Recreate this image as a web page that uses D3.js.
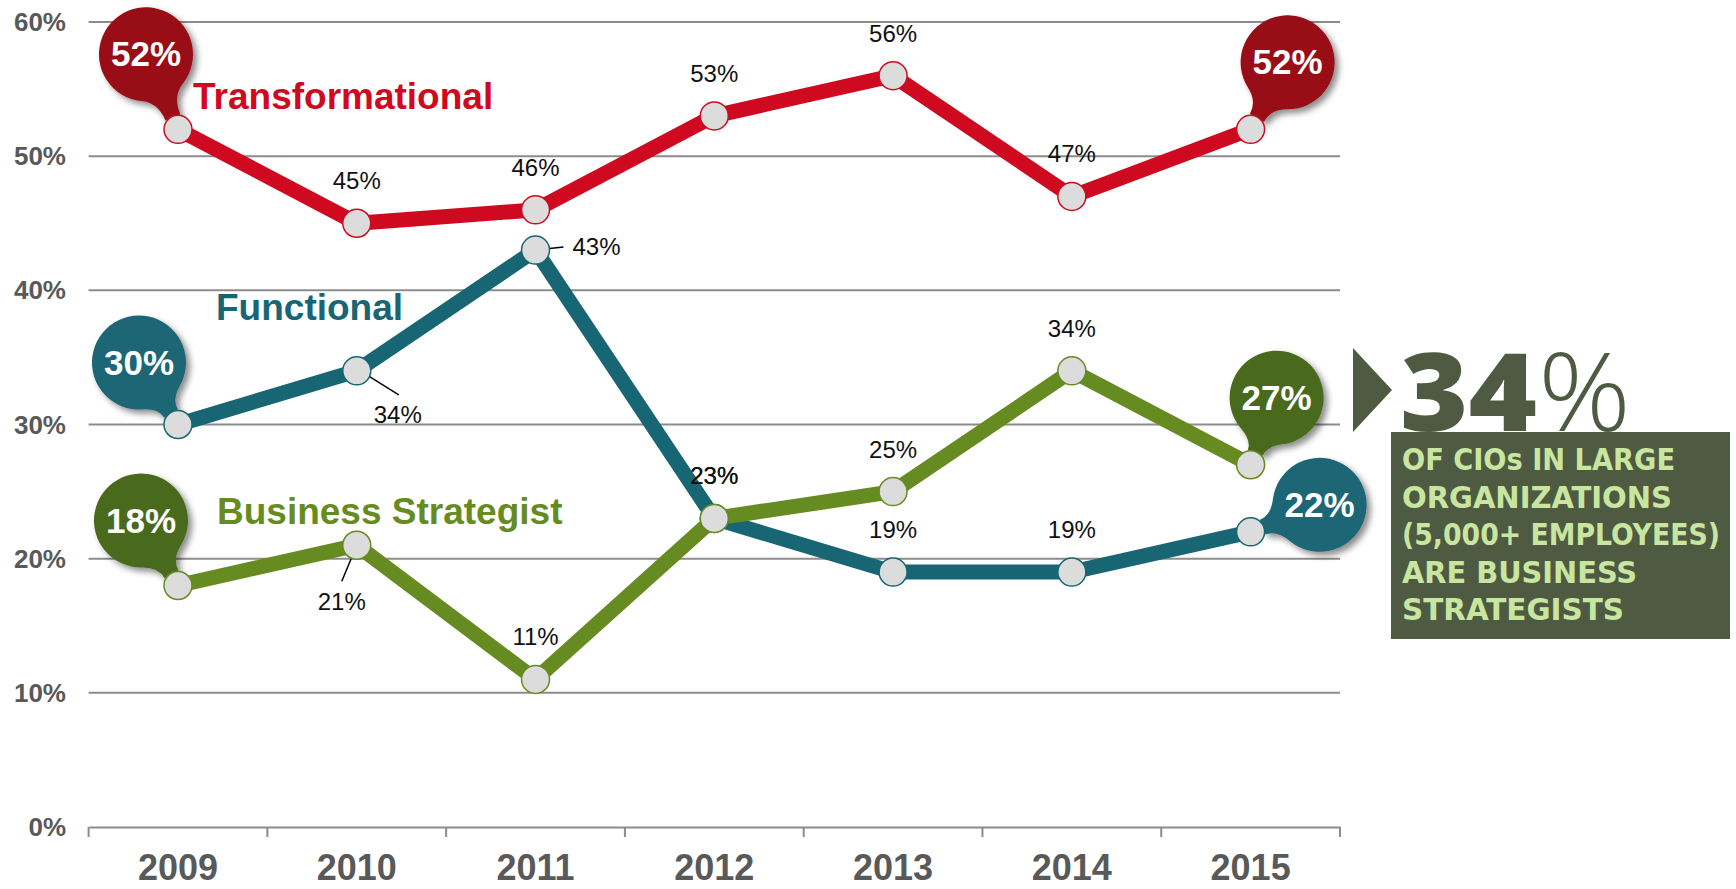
<!DOCTYPE html>
<html>
<head>
<meta charset="utf-8">
<script src="https://cdn.jsdelivr.net/npm/d3@7/dist/d3.min.js"></script>
<style>
  body { margin: 0; background: #fff; }
  text { font-family: "Liberation Sans", Arial, sans-serif; }
</style>
</head>
<body>
<div id="chart"></div>
<script>
const years = ["2009", "2010", "2011", "2012", "2013", "2014", "2015"];
const transformational = [52, 45, 46, 53, 56, 47, 52];
const functional = [30, 34, 43, 23, 19, 19, 22];
const businessStrategist = [18, 21, 11, 23, 25, 34, 27];
const yTicks = [0, 10, 20, 30, 40, 50, 60];
const calloutLines = ["OF CIOs IN LARGE", "ORGANIZATIONS", "(5,000+ EMPLOYEES)", "ARE BUSINESS", "STRATEGISTS"];

const svgWidth = 1736;
const svgHeight = 889;

const series = [
    { name: "Transformational", values: transformational, line: "#cf0a20", bubble: "#990818",
      labelPos: [193, 109],
      bubbles: [{ i: 0, dx: -32, dy: -75 }, { i: 6, dx: 37, dy: -67 }],
      special: {} },
    { name: "Functional", values: functional, line: "#186674", bubble: "#1a6674",
      labelPos: [216, 320],
      bubbles: [{ i: 0, dx: -39, dy: -62 }, { i: 6, dx: 69, dy: -27 }],
      special: { 1: { lx: 41, ly: 52, x1: 2, y1: -1, x2: 42, y2: 24 }, 2: { lx: 62, ly: 5, anchor: "start", lx0: 37, x1: 0, y1: 0, x2: 28, y2: -3 } } },
    { name: "Business Strategist", values: businessStrategist, line: "#668b21", bubble: "#4a6a1a",
      labelPos: [217, 524],
      bubbles: [{ i: 0, dx: -37, dy: -65 }, { i: 6, dx: 26, dy: -67 }],
      special: { 1: { lx: -15, ly: 65, x1: 0, y1: 0, x2: -15, y2: 36 } } }
];

const xScale = d3.scaleBand()
    .domain(years)
    .range([88.6, 1340]);

const yScale = d3.scaleLinear()
    .domain([0, 60])
    .range([827, 22]);

const cx = d => xScale(d) + xScale.bandwidth() / 2;

const svg = d3.select("#chart")
    .append("svg")
    .attr("width", svgWidth)
    .attr("height", svgHeight);

// shadow for the bubbles
const defs = svg.append("defs");
defs.append("filter")
    .attr("id", "shadow")
    .attr("x", "-30%").attr("y", "-30%")
    .attr("width", "170%").attr("height", "170%")
    .append("feDropShadow")
    .attr("dx", 4).attr("dy", 4)
    .attr("stdDeviation", 3)
    .attr("flood-color", "#000")
    .attr("flood-opacity", 0.45);

// gridlines
svg.selectAll(".grid")
    .data(yTicks.filter(d => d > 0))
    .enter()
    .append("line")
    .attr("x1", 88.6)
    .attr("x2", 1340)
    .attr("y1", d => yScale(d))
    .attr("y2", d => yScale(d))
    .attr("stroke", "#8c8c8c")
    .attr("stroke-width", 2);

// y labels
svg.selectAll(".ylab")
    .data(yTicks)
    .enter()
    .append("text")
    .attr("x", 66)
    .attr("y", d => yScale(d) + 9)
    .attr("text-anchor", "end")
    .style("font-size", "26px")
    .style("font-weight", "bold")
    .attr("fill", "#595959")
    .text(d => d + "%");

// x axis
const xAxis = svg.append("g")
    .attr("transform", `translate(0, ${yScale(0)})`)
    .call(d3.axisBottom(xScale).tickSize(0).tickPadding(27));
xAxis.select(".domain").attr("stroke", "#8c8c8c").attr("stroke-width", 2);
xAxis.selectAll("text")
    .style("font-size", "36px")
    .style("font-weight", "bold")
    .style("font-family", "'Liberation Sans', Arial, sans-serif")
    .attr("fill", "#595959");

// band edge ticks
svg.selectAll(".xtick")
    .data(years.concat(["end"]))
    .enter()
    .append("line")
    .attr("x1", (d, i) => i < years.length ? xScale(d) : xScale.range()[1])
    .attr("x2", (d, i) => i < years.length ? xScale(d) : xScale.range()[1])
    .attr("y1", yScale(0))
    .attr("y2", yScale(0) + 10)
    .attr("stroke", "#8c8c8c")
    .attr("stroke-width", 2);

// series lines
const line = d3.line()
    .x((d, i) => cx(years[i]))
    .y(d => yScale(d));

series.forEach(s => {
    svg.append("path")
        .datum(s.values)
        .attr("d", line)
        .attr("fill", "none")
        .attr("stroke", s.line)
        .attr("stroke-width", 15)
        .attr("stroke-linejoin", "miter");
});

// speech bubble with a blunt tail pointing at the point
function bubblePath(bx, by, R, px, py) {
    const vx = px - bx, vy = py - by;
    const L = Math.sqrt(vx * vx + vy * vy);
    const dx = vx / L, dy = vy / L;
    const nx = -dy, ny = dx;
    const th = Math.atan2(dy, dx);
    const a = 0.5;
    const w = 8;
    const tl = L - 13;
    const b1 = [bx + R * Math.cos(th + a), by + R * Math.sin(th + a)];
    const b2 = [bx + R * Math.cos(th - a), by + R * Math.sin(th - a)];
    const t1 = [bx + dx * tl + nx * w, by + dy * tl + ny * w];
    const t2 = [bx + dx * tl - nx * w, by + dy * tl - ny * w];
    const c1 = [bx + dx * (R + 2) + nx * w, by + dy * (R + 2) + ny * w];
    const c2 = [bx + dx * (R + 2) - nx * w, by + dy * (R + 2) - ny * w];
    return `M${b1} Q${c1} ${t1} L${t2} Q${c2} ${b2} A${R},${R} 0 1 0 ${b1} Z`;
}

series.forEach(s => {
    s.bubbles.forEach(b => {
        const px = cx(years[b.i]);
        const py = yScale(s.values[b.i]);
        const g = svg.append("g");
        g.append("path")
            .attr("d", bubblePath(px + b.dx, py + b.dy, 47, px, py))
            .attr("fill", s.bubble)
            .attr("filter", "url(#shadow)");
        g.append("text")
            .attr("x", px + b.dx)
            .attr("y", py + b.dy + 12)
            .attr("text-anchor", "middle")
            .style("font-size", "35px")
            .style("font-weight", "bold")
            .attr("fill", "#fff")
            .text(s.values[b.i] + "%");
    });
});

// leader lines
series.forEach(s => {
    Object.keys(s.special).forEach(k => {
        const sp = s.special[k];
        const px = cx(years[k]);
        const py = yScale(s.values[k]);
        svg.append("line")
            .attr("x1", px + sp.x1).attr("y1", py + sp.y1)
            .attr("x2", px + sp.x2).attr("y2", py + sp.y2)
            .attr("stroke", "#000")
            .attr("stroke-width", 1.5);
    });
});

// points
series.forEach(s => {
    svg.selectAll(null)
        .data(s.values)
        .enter()
        .append("circle")
        .attr("cx", (d, i) => cx(years[i]))
        .attr("cy", d => yScale(d))
        .attr("r", 14)
        .attr("fill", "#dcdcdc")
        .attr("stroke", s.line)
        .attr("stroke-width", 1.5);
});

// value labels
series.forEach(s => {
    const skip = s.bubbles.map(b => b.i);
    svg.selectAll(null)
        .data(s.values.map((v, i) => ({ v, i })).filter(d => skip.indexOf(d.i) < 0))
        .enter()
        .append("text")
        .attr("x", d => {
            const sp = s.special[d.i];
            if (sp && sp.anchor === "start") return cx(years[d.i]) + sp.lx0;
            return cx(years[d.i]) + (sp ? sp.lx : 0);
        })
        .attr("y", d => yScale(d.v) + (s.special[d.i] ? s.special[d.i].ly : -34))
        .attr("text-anchor", d => (s.special[d.i] && s.special[d.i].anchor) || "middle")
        .style("font-size", "24px")
        .attr("fill", "#111")
        .text(d => d.v + "%");
});

// series names
series.forEach(s => {
    svg.append("text")
        .attr("x", s.labelPos[0])
        .attr("y", s.labelPos[1])
        .style("font-size", "37px")
        .style("font-weight", "bold")
        .attr("fill", s.line)
        .text(s.name);
});

// callout on the right
const calloutColor = "#4f5a43";
svg.append("path")
    .attr("d", "M1353,348 L1392,390 L1353,432 Z")
    .attr("fill", calloutColor);

svg.append("rect")
    .attr("x", 1391)
    .attr("y", 432)
    .attr("width", 339)
    .attr("height", 207)
    .attr("fill", calloutColor);

svg.append("text")
    .attr("x", 1400)
    .attr("y", 431)
    .attr("textLength", 137)
    .attr("lengthAdjust", "spacingAndGlyphs")
    .style("font-family", "'Open Sans', sans-serif")
    .style("font-size", "108px")
    .style("font-weight", "800")
    .attr("fill", calloutColor)
    .text("34");

svg.append("text")
    .attr("x", 1538)
    .attr("y", 431)
    .attr("textLength", 93)
    .attr("lengthAdjust", "spacingAndGlyphs")
    .style("font-family", "'Open Sans', sans-serif")
    .style("font-size", "108px")
    .style("font-weight", "300")
    .attr("fill", calloutColor)
    .text("%");

const calloutWidths = [273, 270, 318, 235, 222];
svg.selectAll(".callout")
    .data(calloutLines)
    .enter()
    .append("text")
    .attr("x", 1402)
    .attr("y", (d, i) => 470 + i * 37.5)
    .attr("textLength", (d, i) => calloutWidths[i])
    .attr("lengthAdjust", "spacingAndGlyphs")
    .style("font-family", "'DejaVu Sans Condensed', 'DejaVu Sans', sans-serif")
    .style("font-size", "30px")
    .style("font-weight", "bold")
    .attr("fill", "#c9e6a0")
    .text(d => d);
</script>
</body>
</html>
